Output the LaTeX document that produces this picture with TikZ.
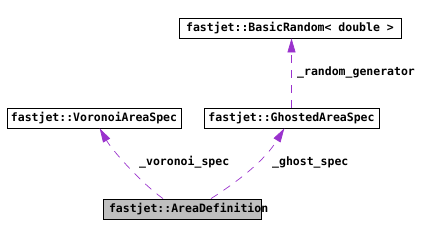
\documentclass[tikz,border=0pt]{standalone}
\usepackage{fontspec}
\setmonofont{DejaVu Sans Mono}
\usepackage{tikz}
\usetikzlibrary{arrows.meta,positioning,calc}
\definecolor{orchid}{HTML}{9A32CD}
\definecolor{boxgray}{HTML}{BFBFBF}
\tikzset{
  classbox/.style={
    rectangle, draw=black, fill=#1, line width=0.8pt,
    minimum height=20pt, inner sep=0pt,
    font=\fontsize{11.5}{13}\selectfont\ttfamily\bfseries
  },
  classbox/.default=white,
  useline/.style={
    -{Triangle[length=14pt,width=8pt]}, color=orchid, line width=0.7pt,
    dash pattern=on 8pt off 7pt
  },
  rolelabel/.style={
    font=\fontsize{11.5}{13}\selectfont\ttfamily\bfseries,
    inner sep=0pt, anchor=base west
  },
}
\begin{document}
\begin{tikzpicture}[x=1pt, y=-1pt]
  \useasboundingbox (0,0) rectangle (441,236);

  % ── Classes ────────────────
  \node[classbox, minimum width=222pt] (basicrandom) at (290,28)
    {fastjet::BasicRandom< double >};
  \node[classbox, minimum width=174pt] (voronoi) at (94,118)
    {fastjet::VoronoiAreaSpec};
  \node[classbox, minimum width=175pt] (ghosted) at (291.5,118)
    {fastjet::GhostedAreaSpec};
  \node[classbox=boxgray, inner xsep=6pt] (areadef) at (182,209)
    {\makebox[146pt][l]{fastjet::AreaDefinition}};

  % ── Members ────────────────
  \draw[useline] (ghosted.north) -- (ghosted.north |- basicrandom.south);
  \node[rolelabel] (randlbl) at (297,75) {\_random\_generator};

  \draw[useline] ([xshift=-19pt]areadef.north)
    .. controls (140,182) and (112,150) .. ([xshift=5.7pt]voronoi.south);
  \node[rolelabel] (vorlbl) at (139,165.5) {\_voronoi\_spec};

  \draw[useline] ([xshift=29pt]areadef.north)
    .. controls (240,180) and (265,160) .. ([xshift=-7.2pt]ghosted.south);
  \node[rolelabel] (ghostlbl) at (272,165.5) {\_ghost\_spec};
\end{tikzpicture}
\end{document}
